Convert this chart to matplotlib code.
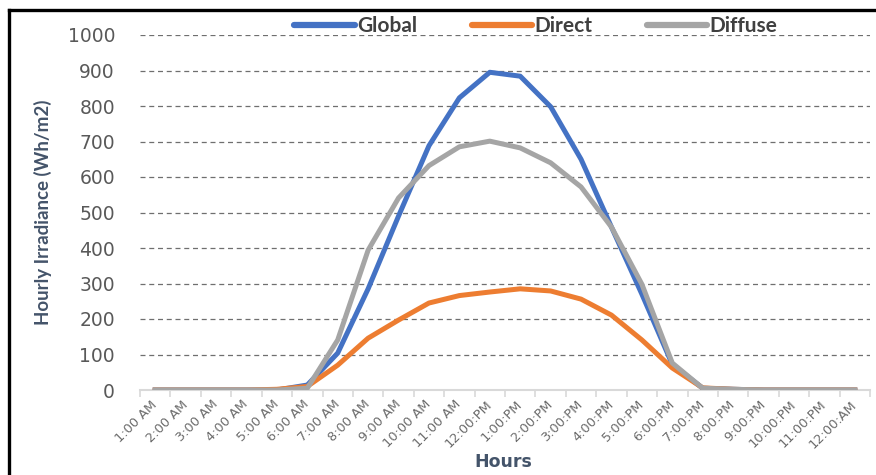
import matplotlib
matplotlib.use("Agg")
import matplotlib.pyplot as plt
from matplotlib.lines import Line2D
import numpy as np

hours = ['1:00 AM', '2:00 AM', '3:00 AM', '4:00 AM', '5:00 AM', '6:00 AM',
         '7:00 AM', '8:00 AM', '9:00 AM', '10:00 AM', '11:00 AM', '12:00:PM',
         '1:00:PM', '2:00:PM', '3:00:PM', '4:00:PM', '5:00:PM', '6:00:PM',
         '7:00:PM', '8:00:PM', '9:00:PM', '10:00:PM', '11:00:PM', '12:00:AM']
global_vals = [0, 0, 0, 0, 0, 14, 104, 285, 490, 688, 823, 895, 884, 798, 650, 459, 270, 72, 5, 2, 0, 0, 0, 0]
direct_vals = [0, 0, 0, 0, 2, 10, 70, 146, 197, 245, 266, 276, 285, 279, 256, 211, 141, 62, 6, 2, 0, 0, 0, 0]
diffuse_vals = [0, 0, 0, 0, 0, 5, 141, 394, 541, 632, 685, 701, 682, 640, 572, 459, 298, 76, 5, 2, 0, 0, 0, 0]
yticks = [0, 100, 200, 300, 400, 500, 600, 700, 800, 900, 1000]

W, H = 876, 475
fig = plt.figure(figsize=(W / 100, H / 100), dpi=100)
ax = fig.add_axes([140 / W, 1 - 390 / H, 730 / W, 355 / H])

x = np.arange(len(hours))
narrow = ['Lato', 'DejaVu Sans']
l1, = ax.plot(x, global_vals, color='#4472C4', lw=3.6, label='Global', zorder=3, solid_joinstyle='round')
l2, = ax.plot(x, direct_vals, color='#ED7D31', lw=3.6, label='Direct', zorder=3, solid_joinstyle='round')
l3, = ax.plot(x, diffuse_vals, color='#A5A5A5', lw=3.6, label='Diffuse', zorder=4, solid_joinstyle='round')

ax.set_xlim(-0.5, len(hours) - 0.5)
ax.set_ylim(0, 1000)
ax.set_yticks(yticks)
ax.set_yticklabels([str(v) for v in yticks], fontsize=13.5, color='#595959')
ax.set_xticks(x)
ax.set_xticklabels(hours, rotation=45, ha='right', va='center', rotation_mode='anchor',
                   fontsize=9.3, color='#6b6b6b')
ax.set_xticks(np.arange(-0.5, len(hours)), minor=True)
ax.tick_params(axis='x', which='major', length=0, pad=9)
ax.tick_params(axis='x', which='minor', length=5, color='#d9d9d9', width=1.2)
ax.tick_params(axis='y', length=0, pad=18)

for s in ['top', 'right', 'left']:
    ax.spines[s].set_visible(False)
ax.spines['bottom'].set_color('#d9d9d9')
ax.spines['bottom'].set_linewidth(1.5)

for v in yticks[1:]:
    ax.axhline(v, color='#6f6f6f', lw=0.9, ls=(0, (4, 3)), zorder=1)

ax.set_ylabel('Hourly Irradiance (Wh/m2)', fontsize=13.5, fontweight='bold', color='#44546A',
              family=narrow, labelpad=11)
fig.text(503 / W, 1 - 462 / H, 'Hours', fontsize=12.5, fontweight='bold', color='#44546A',
         ha='center', va='center')

leg = fig.legend(handles=[l1, l2, l3], loc='center', bbox_to_anchor=(536 / W, 1 - 26 / H),
                 ncol=3, frameon=False, handlelength=2.9, handletextpad=0.12,
                 columnspacing=2.6, prop={'family': narrow, 'weight': 'bold', 'size': 15})
for t in leg.get_texts():
    t.set_color('#404040')
for h in leg.legend_handles:
    h.set_linewidth(4.5)
    h.set_solid_capstyle('round')

fig.add_artist(Line2D([9 / W, 1.0], [1 - 10 / H, 1 - 10 / H], color='black', lw=2.4,
                      transform=fig.transFigure))
fig.add_artist(Line2D([9 / W, 9 / W], [1 - 10 / H, 0.0], color='black', lw=2.4,
                      transform=fig.transFigure))

fig.savefig('out.png', dpi=100)
